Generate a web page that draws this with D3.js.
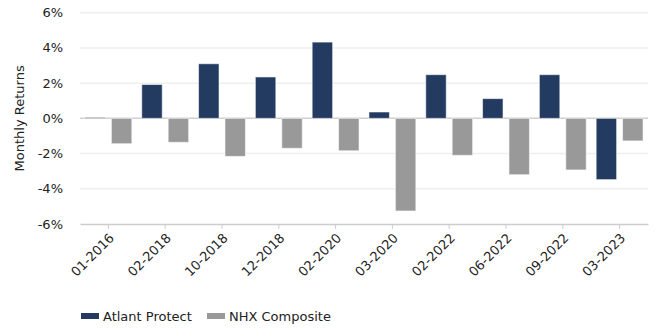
<!DOCTYPE html>
<html>
<head>
<meta charset="utf-8">
<script src="https://cdn.jsdelivr.net/npm/d3@7"></script>
<style>
  html, body { margin: 0; padding: 0; background: #fff; }
  svg { display: block; font-family: "DejaVu Sans", Verdana, sans-serif; }
</style>
</head>
<body>
<svg id="chart" width="661" height="331"></svg>
<script>
const categories = ["01-2016","02-2018","10-2018","12-2018","02-2020","03-2020","02-2022","06-2022","09-2022","03-2023"];
const atlantProtect = [0.05, 1.92, 3.1, 2.35, 4.33, 0.36, 2.48, 1.12, 2.48, -3.48];
const nhxComposite = [-1.44, -1.36, -2.16, -1.70, -1.84, -5.26, -2.10, -3.20, -2.93, -1.28];
const seriesNames = ["Atlant Protect", "NHX Composite"];
const seriesColors = ["#233a61", "#999999"];
const yTicks = [-6, -4, -2, 0, 2, 4, 6];

const svg = d3.select("#chart");
const W = 661, H = 331;
const m = { left: 80, right: 13, top: 12.7, bottom: 107 };
const plotW = W - m.left - m.right;
const plotH = H - m.top - m.bottom;
const FS = "13px";

const g = svg.append("g").attr("transform", `translate(${m.left},${m.top})`);

const y = d3.scaleLinear().domain([-6, 6]).range([plotH, 0]);
const x0 = d3.scaleBand().domain(categories).range([0, plotW]).paddingInner(0.175).paddingOuter(0.0875);
const x1 = d3.scaleBand().domain(seriesNames).range([0, x0.bandwidth()]).paddingInner(0.226);

// gridlines
g.append("g").selectAll("line").data(yTicks.filter(t => t !== -6 && t !== 0)).join("line")
  .attr("x1", 0).attr("x2", plotW)
  .attr("y1", d => y(d)).attr("y2", d => y(d))
  .attr("stroke", "#efefef").attr("stroke-width", 1.5);

// zero line
g.append("line").attr("x1", 0).attr("x2", plotW)
  .attr("y1", y(0)).attr("y2", y(0))
  .attr("stroke", "#d0d0d0").attr("stroke-width", 1.5);

// y axis labels
g.append("g").selectAll("text").data(yTicks).join("text")
  .attr("x", -17).attr("y", d => y(d)).attr("dy", "0.35em")
  .attr("text-anchor", "end")
  .attr("font-size", FS).attr("fill", "#222")
  .text(d => d + "%");

// bars
const data = categories.map((c, i) => ({ cat: c, vals: [atlantProtect[i], nhxComposite[i]] }));
const groups = g.append("g").selectAll("g").data(data).join("g")
  .attr("transform", d => `translate(${x0(d.cat)},0)`);
groups.selectAll("rect").data(d => d.vals.map((v, j) => ({ v, name: seriesNames[j], j }))).join("rect")
  .attr("x", d => x1(d.name))
  .attr("width", x1.bandwidth())
  .attr("y", d => y(Math.max(0, d.v)))
  .attr("height", d => Math.abs(y(d.v) - y(0)))
  .attr("fill", d => seriesColors[d.j])
  .attr("stroke", "rgba(255,255,255,0.55)").attr("stroke-width", 1);

// x axis
const xAxis = g.append("g").attr("transform", `translate(0,${plotH})`)
  .call(d3.axisBottom(x0).tickSize(5).tickSizeOuter(0));
xAxis.select(".domain").attr("stroke", "#cccccc").attr("stroke-width", 1.5);
xAxis.selectAll(".tick line").attr("stroke", "#cccccc").attr("stroke-width", 1);
xAxis.selectAll(".tick text")
  .attr("font-family", "DejaVu Sans, Verdana, sans-serif")
  .attr("font-size", FS).attr("fill", "#222")
  .attr("text-anchor", "end")
  .attr("dx", "-0.45em").attr("dy", "0.55em")
  .attr("transform", "rotate(-45)");

// y axis title
svg.append("text")
  .attr("transform", `translate(24,${m.top + plotH / 2}) rotate(-90)`)
  .attr("text-anchor", "middle")
  .attr("font-size", FS).attr("fill", "#222")
  .text("Monthly Returns");

// legend
const legendX = [81, 207];
const legend = svg.append("g").selectAll("g").data(seriesNames).join("g")
  .attr("transform", (d, i) => `translate(${legendX[i]},316)`);
legend.append("rect").attr("x", 0).attr("y", -3).attr("width", 18).attr("height", 6)
  .attr("fill", (d, i) => seriesColors[i]);
legend.append("text").attr("x", 22).attr("y", 0).attr("dy", "0.35em")
  .attr("font-size", FS).attr("fill", "#222")
  .text(d => d);
</script>
</body>
</html>
